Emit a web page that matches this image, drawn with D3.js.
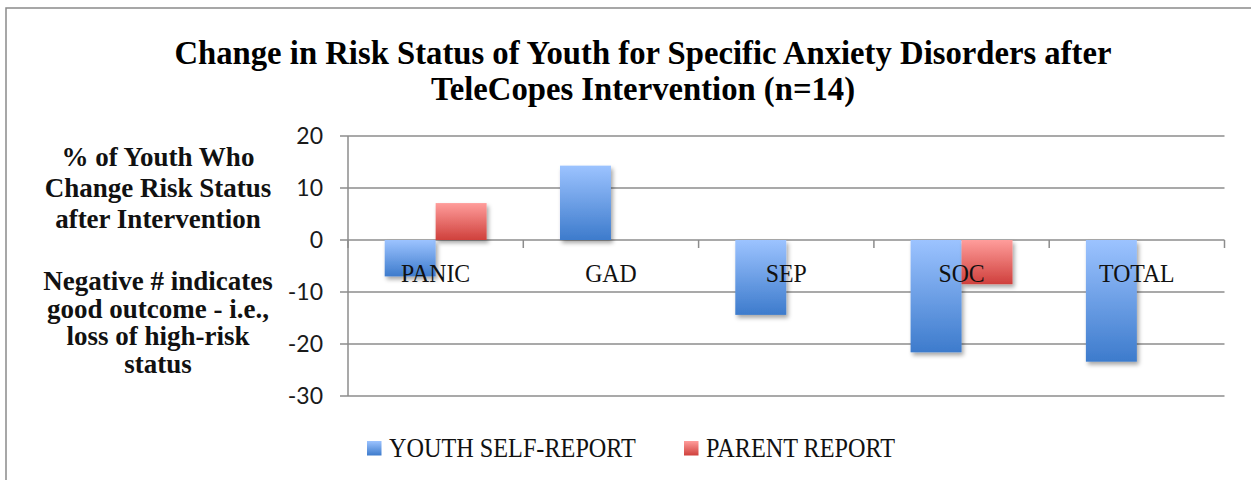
<!DOCTYPE html>
<html>
<head>
<meta charset="utf-8">
<script src="https://cdn.jsdelivr.net/npm/d3@7"></script>
<style>
  body { margin: 0; background: #fff; }
  svg { display: block; }
</style>
</head>
<body>
<div id="chart"></div>
<script>
var width = 1251,
    height = 480;

// data
var categories = ["PANIC", "GAD", "SEP", "SOC", "TOTAL"];
var seriesNames = ["YOUTH SELF-REPORT", "PARENT REPORT"];
var youthValues = [-7.0, 14.3, -14.4, -21.6, -23.4];
var parentValues = [7.1, 0, 0, -8.5, 0];
var yTicks = [20, 10, 0, -10, -20, -30];
var titleLines = ["Change in Risk Status of Youth for Specific Anxiety Disorders after",
                  "TeleCopes Intervention (n=14)"];
var axisNote1 = ["% of Youth Who", "Change Risk Status", "after Intervention"];
var axisNote2 = ["Negative # indicates", "good outcome - i.e.,", "loss of high-risk", "status"];

var colors = {
  youth: ["#9cc3ff", "#3d7bcc"],
  parent: ["#ff9d9b", "#cf403c"]
};
var gridColor = "#8c8c8c";
var condense = 0.915; // category + legend font is a narrow serif

var margin = {top: 136, right: 26.5, bottom: 84, left: 348};
var plotW = width - margin.left - margin.right,
    plotH = height - margin.top - margin.bottom;

var svg = d3.select("#chart").append("svg")
    .attr("width", width)
    .attr("height", height);

var defs = svg.append("defs");
function addGradient(id, c) {
  var lg = defs.append("linearGradient").attr("id", id)
      .attr("x1", 0).attr("y1", 0).attr("x2", 0).attr("y2", 1);
  lg.append("stop").attr("offset", "0%").attr("stop-color", c[0]);
  lg.append("stop").attr("offset", "100%").attr("stop-color", c[1]);
}
addGradient("grad-youth", colors.youth);
addGradient("grad-parent", colors.parent);

var shadow = defs.append("filter").attr("id", "shadow")
    .attr("x", "-20%").attr("y", "-20%").attr("width", "150%").attr("height", "150%");
shadow.append("feDropShadow")
    .attr("dx", 2).attr("dy", 3).attr("stdDeviation", 2)
    .attr("flood-color", "#000").attr("flood-opacity", 0.35);

// outer frame (cut off at right and bottom)
svg.append("rect")
    .attr("x", 6).attr("y", 8)
    .attr("width", width + 20).attr("height", height + 20)
    .attr("fill", "none")
    .attr("stroke", "#8a8a8a")
    .attr("stroke-width", 1.5);

// title
svg.append("text")
    .attr("x", 643)
    .attr("y", 64)
    .attr("text-anchor", "middle")
    .style("font-family", "'Liberation Serif', serif")
    .style("font-weight", "bold")
    .style("font-size", "32.7px")
    .selectAll("tspan")
    .data(titleLines).enter().append("tspan")
      .attr("x", 643)
      .attr("dy", function(d, i) { return i === 0 ? 0 : 36; })
      .text(function(d) { return d; });

// left notes
function note(lines, y0, step) {
  svg.append("text")
      .attr("text-anchor", "middle")
      .style("font-family", "'Liberation Serif', serif")
      .style("font-weight", "bold")
      .style("font-size", "27px")
      .attr("fill", "#111")
      .selectAll("tspan")
      .data(lines).enter().append("tspan")
        .attr("x", 158)
        .attr("y", function(d, i) { return y0 + i * step; })
        .text(function(d) { return d; });
}
note(axisNote1, 166, 31);
note(axisNote2, 290, 27.5);

var g = svg.append("g")
    .attr("transform", "translate(" + margin.left + "," + margin.top + ")");

var x0 = d3.scaleBand()
    .domain(categories)
    .range([0, plotW])
    .padding(0);

var x1 = d3.scaleBand()
    .domain(seriesNames)
    .range([0, x0.bandwidth()])
    .paddingInner(0)
    .paddingOuter(0.72);

var y = d3.scaleLinear()
    .domain([-30, 20])
    .range([plotH, 0]);

// gridlines with the little tick stubs on the left
g.append("g")
    .selectAll("line")
    .data(yTicks).enter().append("line")
      .attr("x1", -8)
      .attr("x2", plotW)
      .attr("y1", function(d) { return y(d); })
      .attr("y2", function(d) { return y(d); })
      .attr("stroke", gridColor)
      .attr("stroke-width", 1.5);

// y axis line
g.append("line")
    .attr("x1", 0).attr("x2", 0)
    .attr("y1", 0).attr("y2", plotH)
    .attr("stroke", gridColor)
    .attr("stroke-width", 1.5);

// y tick labels
g.append("g")
    .selectAll("text")
    .data(yTicks).enter().append("text")
      .attr("x", -25)
      .attr("y", function(d) { return y(d); })
      .attr("dy", "0.35em")
      .attr("text-anchor", "end")
      .style("font-family", "Lato, sans-serif")
      .style("font-size", "23px")
      .attr("fill", "#1a1a1a")
      .text(function(d) { return d; });

// category tick marks on the zero line
var bounds = categories.map(function(c) { return x0(c); }).concat([plotW]);
g.append("g")
    .selectAll("line")
    .data(bounds).enter().append("line")
      .attr("x1", function(d) { return d; })
      .attr("x2", function(d) { return d; })
      .attr("y1", y(0))
      .attr("y2", y(0) + 8)
      .attr("stroke", gridColor)
      .attr("stroke-width", 1.5);

// bars
var rows = categories.map(function(c, i) {
  return {cat: c, vals: [
    {key: seriesNames[0], v: youthValues[i], fill: "url(#grad-youth)"},
    {key: seriesNames[1], v: parentValues[i], fill: "url(#grad-parent)"}
  ]};
});

var group = g.append("g").selectAll("g")
    .data(rows).enter().append("g")
      .attr("transform", function(d) { return "translate(" + x0(d.cat) + ",0)"; });

group.selectAll("rect")
    .data(function(d) { return d.vals.filter(function(v) { return v.v !== 0; }); })
    .enter().append("rect")
      .attr("x", function(d) { return x1(d.key); })
      .attr("width", x1.bandwidth())
      .attr("y", function(d) { return y(Math.max(0, d.v)); })
      .attr("height", function(d) { return Math.abs(y(d.v) - y(0)); })
      .attr("fill", function(d) { return d.fill; })
      .attr("filter", "url(#shadow)");

// category labels sit on top of the bars
g.append("g")
    .selectAll("text")
    .data(categories).enter().append("text")
      .attr("transform", function(d) {
        return "translate(" + (x0(d) + x0.bandwidth() / 2) + "," + (282.3 - margin.top) + ") scale(" + condense + ",1)";
      })
      .attr("text-anchor", "middle")
      .style("font-family", "'Liberation Serif', serif")
      .style("font-size", "26px")
      .attr("fill", "#111")
      .text(function(d) { return d; });

// legend
var legendX = [367, 684];
var legend = svg.append("g").selectAll("g")
    .data(seriesNames).enter().append("g")
      .attr("transform", function(d, i) { return "translate(" + legendX[i] + ",441)"; });

legend.append("rect")
    .attr("width", 14.5)
    .attr("height", 14.5)
    .attr("fill", function(d, i) { return i === 0 ? "url(#grad-youth)" : "url(#grad-parent)"; });

legend.append("text")
    .attr("transform", "translate(22,15.5) scale(" + condense + ",1)")
    .style("font-family", "'Liberation Serif', serif")
    .style("font-size", "26.5px")
    .attr("fill", "#111")
    .text(function(d) { return d; });
</script>
</body>
</html>
